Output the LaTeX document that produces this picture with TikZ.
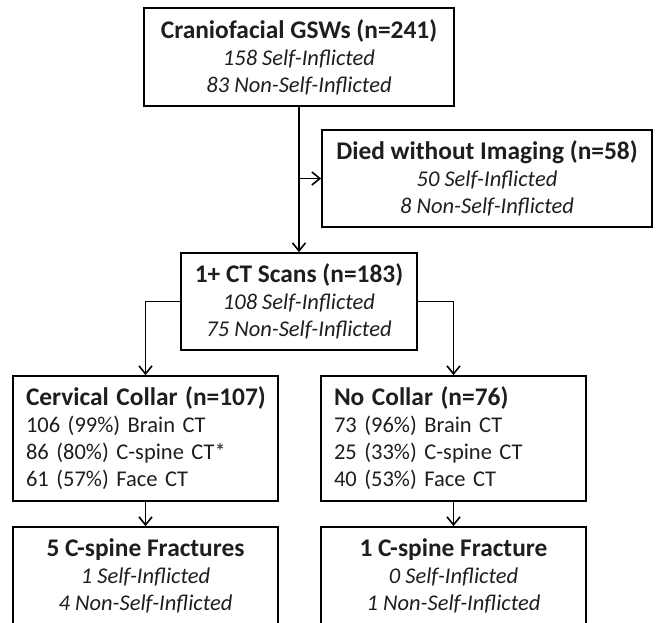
\documentclass[tikz,border=0pt]{standalone}
\usepackage{fontspec}
\setmainfont{Carlito}
\usetikzlibrary{arrows.meta}
\definecolor{txt}{HTML}{1E1E1E}
\tikzset{
  box/.style={draw=black, line width=1.7pt, text=txt, align=center, inner sep=0pt,
    font=\fontsize{22.5}{27}\selectfont},
  lbox/.style={box, align=left, inner xsep=13pt, inner ysep=0pt},
  arr/.style={draw=black, line width=1.7pt, -{Straight Barb[length=8pt,width=13pt,line width=1.6pt]}},
}
\newcommand{\ttl}[1]{\mbox{\bfseries\fontsize{25.4}{27}\selectfont #1}}
\begin{document}
\begin{tikzpicture}[x=1pt,y=-1pt]
\useasboundingbox (0,0) rectangle (662,622);
\clip (0,0) rectangle (662,622);
\node[box, minimum width=310pt, minimum height=98pt] (top) at (299,57)
  {\ttl{Craniofacial GSWs (n=241)}\\ \itshape 158 Self-Inflicted\\ \itshape 83 Non-Self-Inflicted};
\node[box, minimum width=330pt, minimum height=97pt] (died) at (487,178.5)
  {\ttl{Died without Imaging (n=58)}\\ \itshape 50 Self-Inflicted\\ \itshape 8 Non-Self-Inflicted};
\node[box, minimum width=236pt, minimum height=97pt] (ct) at (299,301.5)
  {\ttl{1+ CT Scans (n=183)}\\ \itshape 108 Self-Inflicted\\ \itshape 75 Non-Self-Inflicted};
\node[lbox, text width=239pt, minimum height=125pt] (collar) at (145.5,438.5)
  {\ttl{Cervical Collar (n=107)}\\ 106 (99\%) Brain CT\\ 86 (80\%) C-spine CT*\\ 61 (57\%) Face CT};
\node[lbox, text width=239pt, minimum height=125pt] (nocollar) at (453.5,438.5)
  {\ttl{No Collar (n=76)}\\ 73 (96\%) Brain CT\\ 25 (33\%) C-spine CT\\ 40 (53\%) Face CT};
\node[box, minimum width=265pt, minimum height=98pt] (frac1) at (145.5,576)
  {\ttl{5 C-spine Fractures}\\ \itshape 1 Self-Inflicted\\ \itshape 4 Non-Self-Inflicted};
\node[box, minimum width=265pt, minimum height=98pt] (frac2) at (453.5,576)
  {\ttl{1 C-spine Fracture}\\ \itshape 0 Self-Inflicted\\ \itshape 1 Non-Self-Inflicted};
\draw[arr] (top.south) -- (ct.north);
\draw[arr] (top.south |- died.west) -- (died.west);
\draw[arr] (ct.west) -| (collar.north);
\draw[arr] (ct.east) -| (nocollar.north);
\draw[arr] (collar.south) -- (frac1.north);
\draw[arr] (nocollar.south) -- (frac2.north);
\end{tikzpicture}
\end{document}
